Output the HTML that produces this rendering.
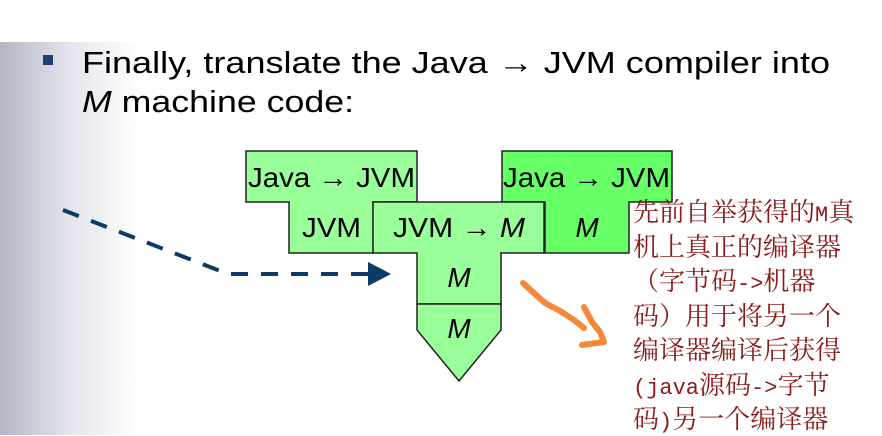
<!DOCTYPE html>
<html><head><meta charset="utf-8"><style>
html,body{margin:0;padding:0;background:#fff;}
body{width:882px;height:435px;overflow:hidden;position:relative;}
.cn{position:absolute;left:633px;top:194px;width:249px;font-family:"Noto Serif CJK SC",serif;font-size:26px;color:#8b1a1a;white-space:nowrap;}
.cn div{height:34.5px;line-height:34.5px;overflow:visible;}
.cn span{font-family:"Liberation Mono",monospace;font-size:22px;line-height:20px;}
</style></head><body>
<svg width="882" height="435" style="position:absolute;left:0;top:0">
<defs><linearGradient id="g" x1="0" x2="1" y1="0" y2="0">
<stop offset="0" stop-color="#b3b6c6"/><stop offset="0.5" stop-color="#e4e5ec"/><stop offset="1" stop-color="#fff"/></linearGradient></defs>
<rect x="0" y="42" width="140" height="393" fill="url(#g)"/>
<rect x="43" y="55" width="10" height="10" fill="#1f3f6f"/>
<g font-family="Liberation Sans, sans-serif" font-size="31" fill="#000">
<text x="82" y="73" textLength="748" lengthAdjust="spacingAndGlyphs">Finally, translate the Java → JVM compiler into</text>
<text x="82" y="112" textLength="272" lengthAdjust="spacingAndGlyphs"><tspan font-style="italic">M</tspan> machine code:</text>
</g>
<g stroke="#222" stroke-width="1.5">
<path d="M246 151H417V202H373V253H289V202H246Z" fill="#99ff99"/>
<path d="M502 151H672V202H629V253H545V202H502Z" fill="#66ff66"/>
<path d="M373 202H544V253H501V304H417V253H373Z" fill="#99ff99"/>
<path d="M417 304H501V330L459 381L417 330Z" fill="#99ff99"/>
</g>
<g font-family="Liberation Sans, sans-serif" font-size="28" fill="#000">
<text x="248" y="187" textLength="167" lengthAdjust="spacingAndGlyphs">Java → JVM</text>
<text x="503" y="187" textLength="167" lengthAdjust="spacingAndGlyphs">Java → JVM</text>
<text x="302" y="237" textLength="59" lengthAdjust="spacingAndGlyphs">JVM</text>
<text x="393" y="237" textLength="132" lengthAdjust="spacingAndGlyphs">JVM → <tspan font-style="italic">M</tspan></text>
<text x="587" y="237" font-style="italic" text-anchor="middle">M</text>
<text x="459" y="287" font-style="italic" text-anchor="middle">M</text>
<text x="459" y="338" font-style="italic" text-anchor="middle">M</text>
</g>
<path d="M63 210L228 274H368" fill="none" stroke="#0d3a66" stroke-width="4" stroke-dasharray="17,13"/>
<path d="M368 262L391 274L368 286Z" fill="#0d3a66"/>
<path d="M523 283L545 303L560 311L574 320L584 328M584 307L592 322L600 332L604 342L582 345" fill="none" stroke="#f5883a" stroke-width="6" stroke-linecap="round" stroke-linejoin="round"/>
</svg>
<div class="cn">
<div>先前自举获得的<span>M</span>真</div>
<div>机上真正的编译器</div>
<div>（字节码<span>-&gt;</span>机器</div>
<div>码）用于将另一个</div>
<div>编译器编译后获得</div>
<div><span>(java</span>源码<span>-&gt;</span>字节</div>
<div>码<span>)</span>另一个编译器</div>
</div>
</body></html>
